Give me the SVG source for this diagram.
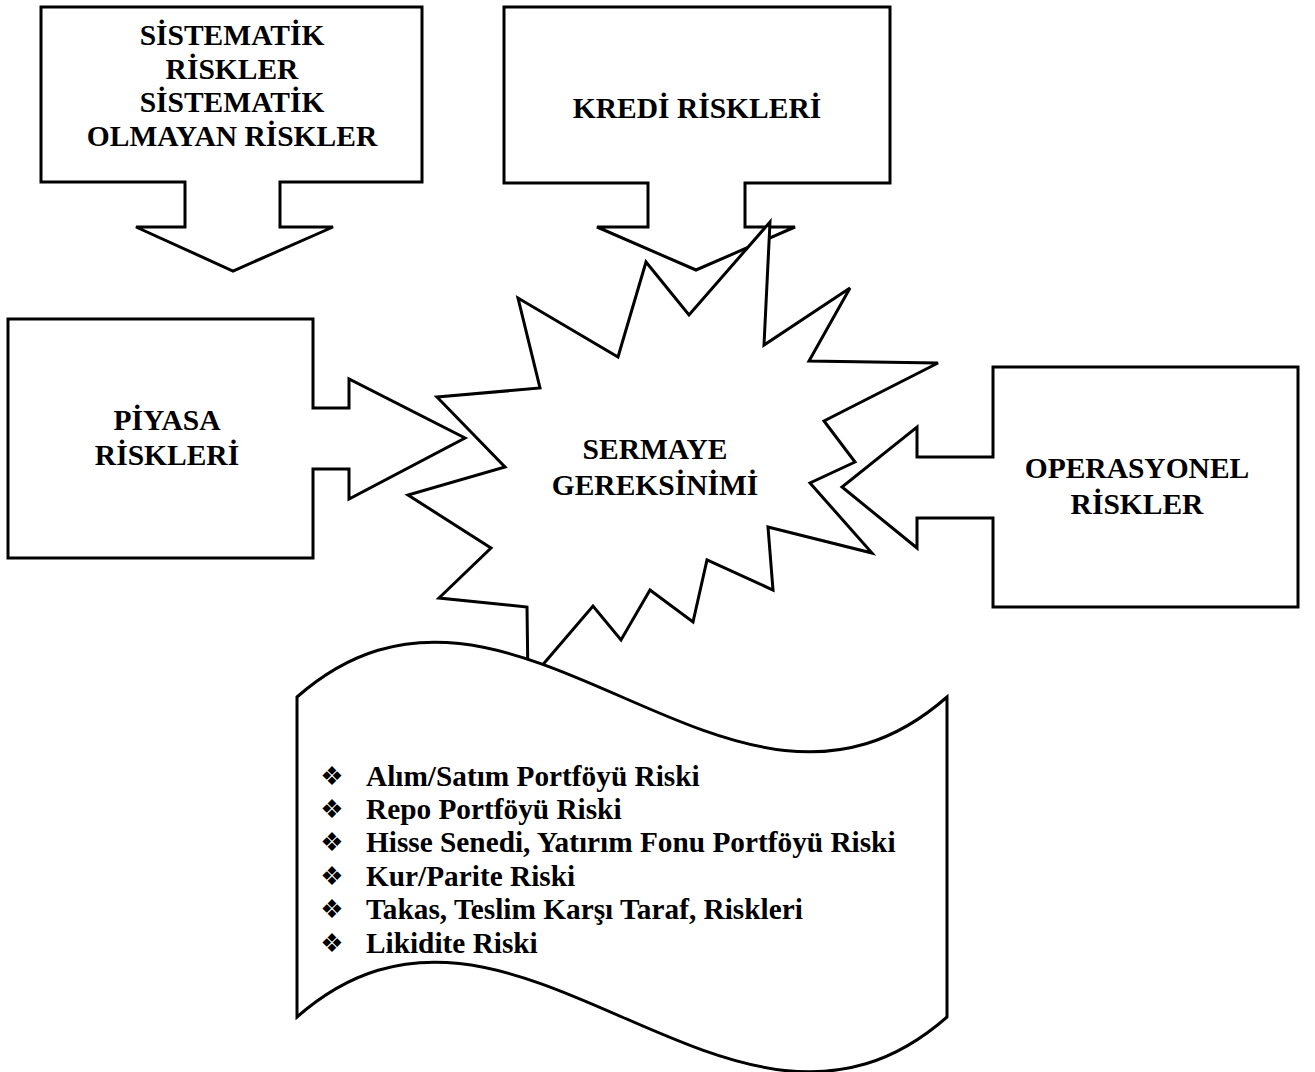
<svg xmlns="http://www.w3.org/2000/svg" width="1315" height="1072" viewBox="0 0 1315 1072">
<style>
.shape{fill:#fff;stroke:#000;stroke-width:3;stroke-linejoin:miter}
.t{font-family:"Liberation Serif","Times New Roman",serif;font-weight:bold;font-size:29.5px;fill:#000;text-anchor:middle}
.li{font-family:"Liberation Serif","Times New Roman",serif;font-weight:bold;font-size:29.3px;fill:#000}
.b{font-family:"DejaVu Sans",sans-serif;font-size:26px;fill:#000;text-anchor:middle}
</style>
<rect width="1315" height="1072" fill="#fff"/>
<g id="sistematik">
<polygon class="shape" points="41,7 422,7 422,182 280,182 280,227 333,227 233,271 136,227 185,227 185,182 41,182"/>
<text class="t" x="232" y="45">SİSTEMATİK</text>
<text class="t" x="232" y="79">RİSKLER</text>
<text class="t" x="232" y="112">SİSTEMATİK</text>
<text class="t" x="232" y="146">OLMAYAN RİSKLER</text>
</g>
<g id="kredi">
<polygon class="shape" points="504,7 890,7 890,183 745,183 745,227 795,227 696,270 597,227 648,227 648,183 504,183"/>
<text class="t" x="697" y="118">KREDİ RİSKLERİ</text>
</g>
<g id="piyasa">
<polygon class="shape" points="8,319 313,319 313,408 349,408 349,379 465,438 349,499 349,469 313,469 313,558 8,558"/>
<text class="t" x="167" y="430">PİYASA</text>
<text class="t" x="167" y="465">RİSKLERİ</text>
</g>
<g id="operasyonel">
<polygon class="shape" points="1298,367 993,367 993,457 917,457 917,427 842,487 917,548 917,518 993,518 993,607 1298,607"/>
<text class="t" x="1137" y="478">OPERASYONEL</text>
<text class="t" x="1137" y="514">RİSKLER</text>
</g>
<g id="sermaye">
<polygon class="shape" points="770,222 764,345 850,288 809,361 938,363 824,421 855,462 810,483 872,553 768,527 773,590 707,560 693,622 650,590 621,640 593,606 528,682 527,607 439,598 491,548 408,495 505,467 437,397 540,388 518,298 618,357 646,262 689,315"/>
<text class="t" x="655" y="459">SERMAYE</text>
<text class="t" x="655" y="495">GEREKSİNİMİ</text>
</g>
<g id="piyasa-listesi">
<path class="shape" d="M297,697 C513,507 731,887 947,697 L947,1017 C731,1207 513,827 297,1017 Z"/>
<text class="b" x="332" y="785">❖</text>
<text class="b" x="332" y="818">❖</text>
<text class="b" x="332" y="851">❖</text>
<text class="b" x="332" y="885">❖</text>
<text class="b" x="332" y="918">❖</text>
<text class="b" x="332" y="952">❖</text>
<text class="li" x="366" y="786">Alım/Satım Portföyü Riski</text>
<text class="li" x="366" y="819">Repo Portföyü Riski</text>
<text class="li" x="366" y="852">Hisse Senedi, Yatırım Fonu Portföyü Riski</text>
<text class="li" x="366" y="886">Kur/Parite Riski</text>
<text class="li" x="366" y="919">Takas, Teslim Karşı Taraf, Riskleri</text>
<text class="li" x="366" y="953">Likidite Riski</text>
</g>
<g id="connectors"/>
</svg>
